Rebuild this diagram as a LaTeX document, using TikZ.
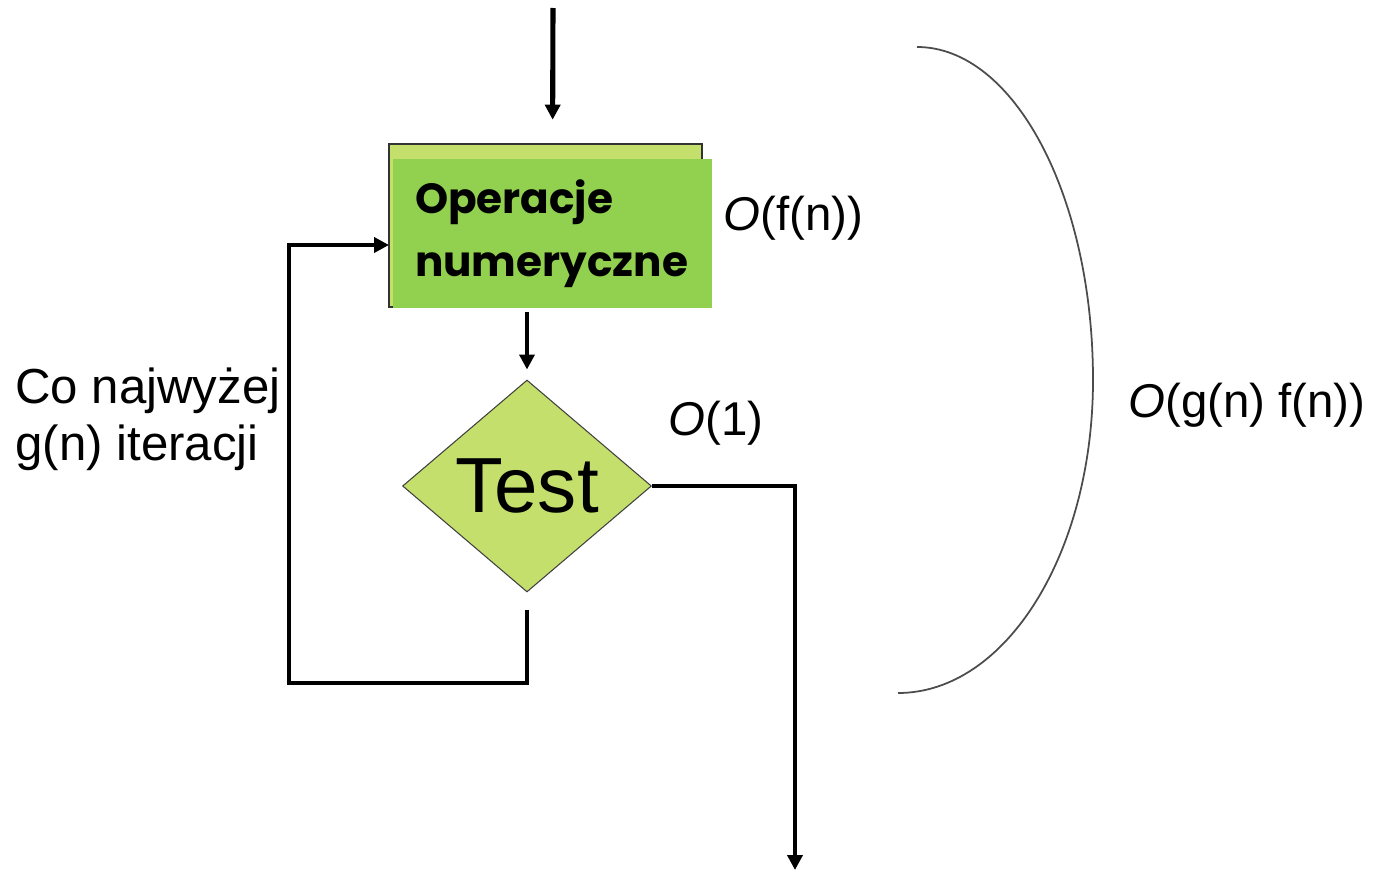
\documentclass[tikz,border=0pt]{standalone}
\usepackage{fontspec}
\setmainfont{Liberation Sans}
\newfontfamily\boxfont{Poppins}
\usetikzlibrary{shapes.geometric}
\usetikzlibrary{arrows.meta}
\definecolor{boxgreen}{HTML}{92D050}
\definecolor{lightgreen}{HTML}{C4DF6B}

\begin{document}
\begin{tikzpicture}[x=0.02cm,y=-0.02cm,
    flow/.style={line width=2.3pt,-{Triangle[length=0.3cm,width=0.3cm]}},
    costlabel/.style={anchor=base west,inner sep=0pt,font=\fontsize{27}{33}\selectfont}]
        %    \draw [help lines] (0,0) grid (1374,872);
        \useasboundingbox (0,0) rectangle (1374,872);

        \path node (opsback) [draw=black!80,line width=1.2pt,fill=lightgreen,minimum width=6.26cm,minimum height=3.26cm] at (545.5,225.5) {};
        \path node (ops) [fill=boxgreen,minimum width=6.38cm,minimum height=2.98cm,text width=5.5cm,inner xsep=0.44cm,align=left,font=\boxfont\bfseries\fontsize{24}{36}\selectfont] at (552.5,233.5) {Operacje\\numeryczne};

        \path node (test) [diamond,draw=black!75,line width=0.6pt,fill=lightgreen,minimum width=4.98cm,minimum height=4.24cm,inner sep=0pt,font=\fontsize{44.5}{50}\selectfont] at (527,486) {Test};

        \coordinate (entry) at (553,8);
        \coordinate (loopstart) at (527,610);
        \coordinate (loopcorner) at (289,683);
        \coordinate (loopin) at (389,245);
        \coordinate (exit) at (795,870);

        \draw[flow,line width=2.9pt,shorten >=0.78cm] (entry) -- (ops.north);
        \draw[flow,line width=2.1pt,shorten <=0.08cm,shorten >=0.2cm] (ops.south -| test.north) -- (test.north);
        \draw[flow] (test.east) -| (exit);
        \draw[flow] (loopstart) |- (loopcorner) |- (loopin);

        \draw[black!70,line width=1pt] (917,47) .. controls (1014,47) and (1093,196) .. (1093,380) .. controls (1093,553) and (1006,693) .. (898,693);

        \path node (fn) [costlabel] at (723,230) {\textit{O}(f(n))};
        \path node (one) [costlabel] at (668,435) {\textit{O}(1)};
        \path node (gf) [costlabel] at (1128,417) {\textit{O}(g(n) f(n))};
        \path node (iter) [costlabel,font=\fontsize{28}{33}\selectfont,align=left,anchor=north west] at (15,367) {Co najwyżej\\g(n) iteracji};
\end{tikzpicture}
\end{document}
